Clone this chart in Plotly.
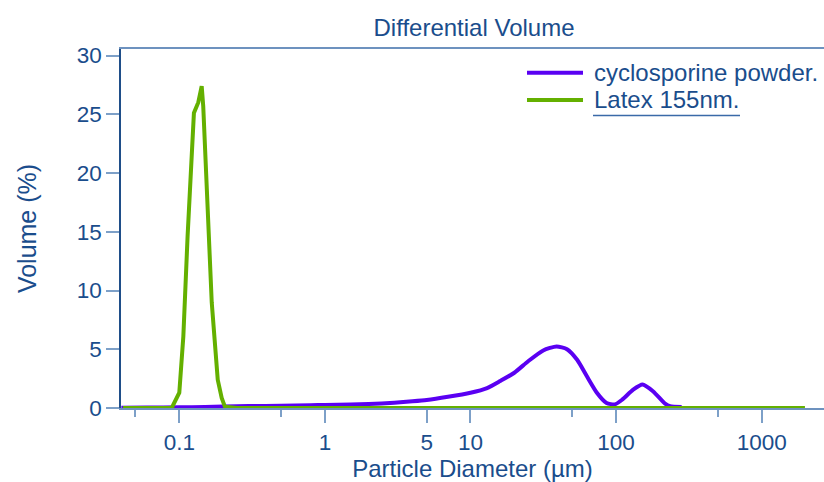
import plotly.graph_objects as go

# ---- data ----
cyclo_x = [0.04, 0.06, 0.1, 0.15, 0.2, 0.3, 0.5, 0.8, 1, 1.5, 2, 3, 4, 5, 7, 10, 13, 16, 20, 25, 31.6,
           39, 46, 54, 63, 74, 86, 98, 110, 131, 152, 180, 217, 235, 282]
cyclo_y = [0.03, 0.04, 0.06, 0.09, 0.12, 0.16, 0.2, 0.24, 0.26, 0.3, 0.34, 0.45, 0.57, 0.68, 0.95, 1.3,
           1.7, 2.3, 3.0, 4.0, 4.9, 5.24, 5.0, 4.1, 2.7, 1.28, 0.43, 0.3, 0.7, 1.56, 2.0, 1.41, 0.37, 0.15, 0.08]

latex_x = [0.041, 0.0887, 0.1, 0.1066, 0.114, 0.1217, 0.126, 0.135, 0.1425, 0.146, 0.1556, 0.167,
           0.1837, 0.1955, 0.206, 0.25, 1, 10, 100, 1000, 1982]
latex_y = [0.0, 0.0, 1.3, 6.1, 14.6, 21.7, 25.1, 26.0, 27.4, 25.7, 17.4, 9.0,
           2.4, 0.85, 0.1, 0.0, 0.0, 0.0, 0.0, 0.0, 0.0]

series_names = ["cyclosporine powder.", "Latex 155nm."]
series_colors = ["#5a00f2", "#64b000"]

x_major_vals = [0.1, 1, 5, 10, 100, 1000]
x_major_text = ["0.1", "1", "5", "10", "100", "1000"]
x_minor_vals = [0.05, 0.5, 50, 500]
y_tick_vals = [0, 5, 10, 15, 20, 25, 30]

# ---- layout geometry ----
W, H = 824, 482
ML, MR, MT, MB = 121, 0, 49, 74
PW, PH = W - ML - MR, H - MT - MB

def px_x(px):
    return (px - ML) / PW

def px_y(py):
    return (H - MB - py) / PH

TEXT = "#1a4d8c"
TICK = "#7da0c8"
FONT = "Liberation Sans, Arial, sans-serif"

fig = go.Figure()
fig.add_trace(go.Scatter(x=cyclo_x, y=cyclo_y, mode="lines", name=series_names[0],
                         line=dict(color=series_colors[0], width=4, shape="spline", smoothing=0.6),
                         showlegend=False))
fig.add_trace(go.Scatter(x=latex_x, y=latex_y, mode="lines", name=series_names[1],
                         line=dict(color=series_colors[1], width=4),
                         showlegend=False))

fig.update_layout(
    width=W, height=H,
    margin=dict(l=ML, r=MR, t=MT, b=MB),
    paper_bgcolor="white", plot_bgcolor="white",
    font=dict(family=FONT, color=TEXT),
    title=dict(text="Differential Volume", x=474 / W, y=1 - 28 / H, xanchor="center",
               yanchor="middle", font=dict(size=24, color=TEXT)),
    showlegend=False,
)

fig.update_xaxes(
    type="log", range=[-1.4004, 3.428],
    tickmode="array", tickvals=x_major_vals, ticktext=x_major_text,
    ticks="outside", ticklen=13, tickwidth=1.5, tickcolor=TICK,
    tickfont=dict(size=22.5, color=TEXT),
    minor=dict(tickmode="array", tickvals=x_minor_vals, ticks="outside", ticklen=7,
               tickwidth=1.5, tickcolor=TICK, showgrid=False),
    showgrid=False, zeroline=False,
    showline=True, linecolor="#6d92bf", linewidth=1.5, mirror=True,
    title=dict(text="Particle Diameter (µm)", font=dict(size=24, color=TEXT), standoff=6),
)
fig.update_yaxes(
    range=[0, PH / 11.75],
    tickmode="array", tickvals=y_tick_vals,
    ticks="outside", ticklen=13, tickwidth=1.5, tickcolor=TICK,
    tickfont=dict(size=22.5, color=TEXT),
    showgrid=False, zeroline=False,
    showline=True, linecolor="#1f4e89", linewidth=1.5,
    title=dict(text="Volume (%)", font=dict(size=25, color=TEXT), standoff=33),
)

# custom legend
leg_rows = [72.7, 100.0]
for name, color, ry in zip(series_names, series_colors, leg_rows):
    fig.add_shape(type="line", xref="paper", yref="paper",
                  x0=px_x(527), x1=px_x(583), y0=px_y(ry), y1=px_y(ry),
                  line=dict(color=color, width=4))
    fig.add_annotation(xref="paper", yref="paper", x=px_x(592), y=px_y(ry),
                       xanchor="left", yanchor="middle", showarrow=False,
                       text=name, font=dict(size=24, color=TEXT))
fig.add_shape(type="line", xref="paper", yref="paper",
              x0=px_x(593), x1=px_x(740), y0=px_y(115.5), y1=px_y(115.5),
              line=dict(color="#3a6aa8", width=1.5))

fig.write_html("out.html")
